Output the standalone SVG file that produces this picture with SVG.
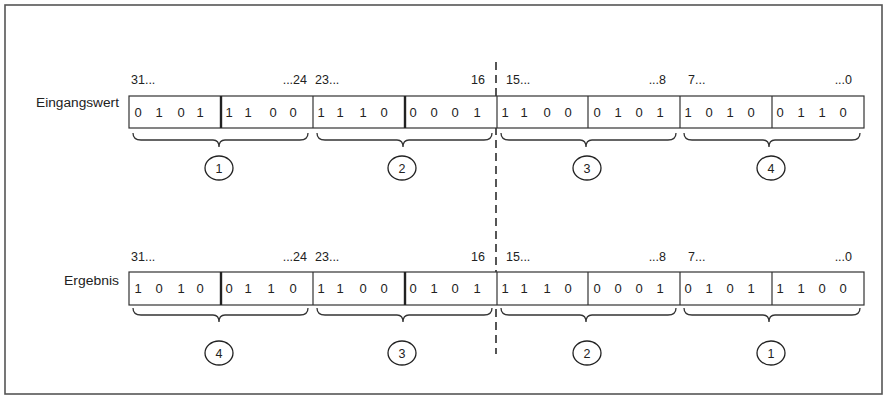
<svg xmlns="http://www.w3.org/2000/svg" width="890" height="403" viewBox="0 0 890 403">
<style>
text{font-family:"Liberation Sans",Arial,sans-serif;font-size:12.5px;fill:#222}
.d text{text-anchor:middle;font-size:13px}
.box{fill:#fff;stroke:#333;stroke-width:1.2}
.thin{stroke:#333;stroke-width:1.2}
.thick{stroke:#222;stroke-width:2.4}
.brace{fill:none;stroke:#333;stroke-width:1.3}
.circ{fill:#fff;stroke:#222;stroke-width:1.3}
.lbl{text-anchor:middle}
.end{text-anchor:end}
</style>
<rect x="0" y="0" width="890" height="403" fill="#fff"/>
<rect x="5" y="5" width="877" height="389" fill="#fff" stroke="#555" stroke-width="1.6"/>

<g id="connectors">
<line x1="496" y1="62" x2="496" y2="354" stroke="#444" stroke-width="1.8" stroke-dasharray="8 5"/>
</g>

<g id="row1">
<text x="119" y="107" class="end" textLength="83" lengthAdjust="spacingAndGlyphs">Eingangswert</text>
<text x="131" y="84">31...</text>
<text x="307" y="84" class="end">...24</text>
<text x="315" y="84">23...</text>
<text x="485" y="84" class="end">16</text>
<text x="506" y="84">15...</text>
<text x="666" y="84" class="end">...8</text>
<text x="688" y="84">7...</text>
<text x="852" y="84" class="end">...0</text>
<rect x="129" y="96" width="735" height="32" class="box"/>
<line x1="221" y1="96" x2="221" y2="128" class="thick"/>
<line x1="313" y1="96" x2="313" y2="128" class="thin"/>
<line x1="405" y1="96" x2="405" y2="128" class="thick"/>
<line x1="497" y1="96" x2="497" y2="128" class="thin"/>
<line x1="588" y1="96" x2="588" y2="128" class="thin"/>
<line x1="680" y1="96" x2="680" y2="128" class="thin"/>
<line x1="772" y1="96" x2="772" y2="128" class="thin"/>
<g class="d">
<text x="138" y="117">0</text><text x="159" y="117">1</text><text x="181" y="117">0</text><text x="200" y="117">1</text>
<text x="229" y="117">1</text><text x="248" y="117">1</text><text x="273" y="117">0</text><text x="293" y="117">0</text>
<text x="321" y="117">1</text><text x="340" y="117">1</text><text x="363" y="117">1</text><text x="384" y="117">0</text>
<text x="413" y="117">0</text><text x="434" y="117">0</text><text x="455" y="117">0</text><text x="477" y="117">1</text>
<text x="505" y="117">1</text><text x="524" y="117">1</text><text x="547" y="117">0</text><text x="568" y="117">0</text>
<text x="597" y="117">0</text><text x="618" y="117">1</text><text x="639" y="117">0</text><text x="660" y="117">1</text>
<text x="688" y="117">1</text><text x="709" y="117">0</text><text x="730" y="117">1</text><text x="751" y="117">0</text>
<text x="780" y="117">0</text><text x="801" y="117">1</text><text x="822" y="117">1</text><text x="843" y="117">0</text>
</g>
</g>

<g id="braces1">
<path class="brace" d="M133,133 Q133,140 141,140 L213,140 Q219,140 219,147 Q219,140 225,140 L300,140 Q308,140 308,133"/>
<path class="brace" d="M317,133 Q317,140 325,140 L397,140 Q403,140 403,147 Q403,140 409,140 L484,140 Q492,140 492,133"/>
<path class="brace" d="M501,133 Q501,140 509,140 L580,140 Q586,140 586,147 Q586,140 592,140 L668,140 Q676,140 676,133"/>
<path class="brace" d="M684,133 Q684,140 692,140 L763,140 Q769,140 769,147 Q769,140 775,140 L852,140 Q860,140 860,133"/>
</g>
<g id="c1a"><ellipse cx="219" cy="168" rx="14" ry="12" class="circ"/><text x="219" y="173" class="lbl">1</text></g>
<g id="c1b"><ellipse cx="402" cy="168" rx="14" ry="12" class="circ"/><text x="402" y="173" class="lbl">2</text></g>
<g id="c1c"><ellipse cx="587" cy="168" rx="14" ry="12" class="circ"/><text x="587" y="173" class="lbl">3</text></g>
<g id="c1d"><ellipse cx="771" cy="168" rx="14" ry="12" class="circ"/><text x="771" y="173" class="lbl">4</text></g>

<g id="row2">
<text x="119" y="285" class="end" textLength="55" lengthAdjust="spacingAndGlyphs">Ergebnis</text>
<text x="131" y="261">31...</text>
<text x="307" y="261" class="end">...24</text>
<text x="315" y="261">23...</text>
<text x="485" y="261" class="end">16</text>
<text x="506" y="261">15...</text>
<text x="666" y="261" class="end">...8</text>
<text x="688" y="261">7...</text>
<text x="852" y="261" class="end">...0</text>
<rect x="129" y="272" width="735" height="33" class="box"/>
<line x1="221" y1="272" x2="221" y2="305" class="thick"/>
<line x1="313" y1="272" x2="313" y2="305" class="thin"/>
<line x1="405" y1="272" x2="405" y2="305" class="thick"/>
<line x1="497" y1="272" x2="497" y2="305" class="thin"/>
<line x1="588" y1="272" x2="588" y2="305" class="thin"/>
<line x1="680" y1="272" x2="680" y2="305" class="thin"/>
<line x1="772" y1="272" x2="772" y2="305" class="thin"/>
<g class="d">
<text x="138" y="293">1</text><text x="159" y="293">0</text><text x="181" y="293">1</text><text x="200" y="293">0</text>
<text x="229" y="293">0</text><text x="248" y="293">1</text><text x="271" y="293">1</text><text x="293" y="293">0</text>
<text x="321" y="293">1</text><text x="340" y="293">1</text><text x="363" y="293">0</text><text x="384" y="293">0</text>
<text x="413" y="293">0</text><text x="434" y="293">1</text><text x="455" y="293">0</text><text x="477" y="293">1</text>
<text x="505" y="293">1</text><text x="524" y="293">1</text><text x="547" y="293">1</text><text x="568" y="293">0</text>
<text x="597" y="293">0</text><text x="618" y="293">0</text><text x="639" y="293">0</text><text x="660" y="293">1</text>
<text x="688" y="293">0</text><text x="709" y="293">1</text><text x="730" y="293">0</text><text x="751" y="293">1</text>
<text x="780" y="293">1</text><text x="801" y="293">1</text><text x="822" y="293">0</text><text x="843" y="293">0</text>
</g>
</g>

<g id="braces2">
<path class="brace" d="M133,308 Q133,315 141,315 L213,315 Q219,315 219,322 Q219,315 225,315 L300,315 Q308,315 308,308"/>
<path class="brace" d="M317,308 Q317,315 325,315 L397,315 Q403,315 403,322 Q403,315 409,315 L484,315 Q492,315 492,308"/>
<path class="brace" d="M501,308 Q501,315 509,315 L580,315 Q586,315 586,322 Q586,315 592,315 L668,315 Q676,315 676,308"/>
<path class="brace" d="M684,308 Q684,315 692,315 L763,315 Q769,315 769,322 Q769,315 775,315 L852,315 Q860,315 860,308"/>
</g>
<g id="c2a"><ellipse cx="219" cy="353" rx="14" ry="12" class="circ"/><text x="219" y="358" class="lbl">4</text></g>
<g id="c2b"><ellipse cx="402" cy="353" rx="14" ry="12" class="circ"/><text x="402" y="358" class="lbl">3</text></g>
<g id="c2c"><ellipse cx="587" cy="353" rx="14" ry="12" class="circ"/><text x="587" y="358" class="lbl">2</text></g>
<g id="c2d"><ellipse cx="771" cy="353" rx="14" ry="12" class="circ"/><text x="771" y="358" class="lbl">1</text></g>
</svg>
